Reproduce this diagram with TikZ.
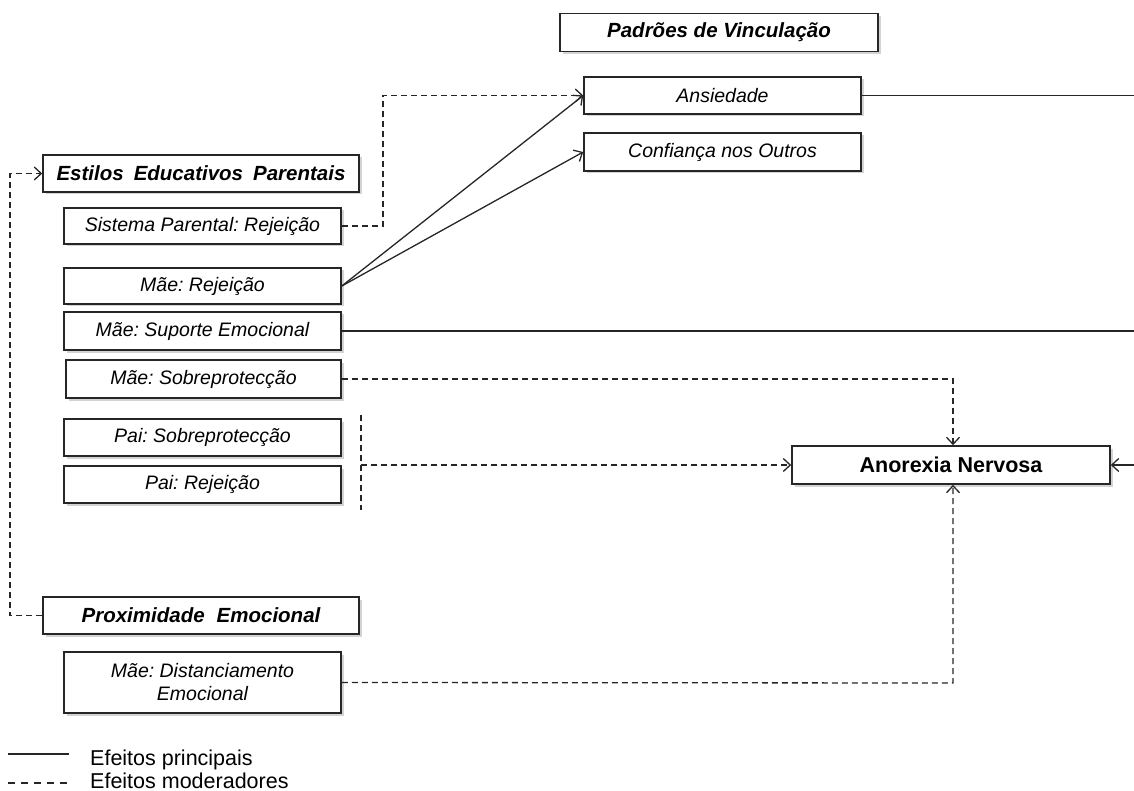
\documentclass[tikz,border=0pt]{standalone}
\usepackage{fontspec}
\setmainfont{Liberation Sans}
\frenchspacing
\usetikzlibrary{arrows.meta,shadows}
\begin{document}
\begin{tikzpicture}[x=1pt,y=-1pt,
  box/.style={draw=black!85,line width=1.6pt,fill=white,inner sep=0pt,
    drop shadow={opacity=0.35,shadow xshift=2.5pt,shadow yshift=-2.5pt},
    font=\fontsize{19.5}{23}\selectfont\itshape},
  head/.style={box,font=\fontsize{20.5}{24}\selectfont\bfseries\itshape},
  conn/.style={line width=1.3pt,draw=black!85},
  dsh/.style={conn,dash pattern=on 6pt off 4pt},
  arr/.style={-{Straight Barb[length=7pt,width=13pt,line width=1.3pt]}},
  legtext/.style={anchor=base west,inner sep=0pt,font=\fontsize{21.5}{24}\selectfont},
]
\useasboundingbox (0,0) rectangle (1134,791);
% nodes
\node[head,minimum width=318pt,minimum height=38pt] (pv) at (719,32.5) {Padrões de Vinculação};
\node[box,minimum width=277pt,minimum height=37pt] (ans) at (722.5,95.5) {Ansiedade};
\node[box,minimum width=277pt,minimum height=38pt] (conf) at (722.5,152) {Confiança nos Outros};
\node[head,minimum width=316pt,minimum height=37pt] (est) at (201,173.5) {Estilos\hspace{10pt}Educativos\hspace{10pt}Parentais};
\node[box,minimum width=277pt,minimum height=36pt] (spr) at (202.5,226) {Sistema Parental: Rejeição};
\node[box,minimum width=277pt,minimum height=36pt] (mr) at (202.5,286) {Mãe: Rejeição};
\node[box,minimum width=277pt,minimum height=38pt] (mse) at (202.5,331) {Mãe: Suporte Emocional};
\node[box,minimum width=275pt,minimum height=38pt] (ms) at (203.5,379) {Mãe: Sobreprotecção};
\node[box,minimum width=277pt,minimum height=37pt] (ps) at (202.5,437.5) {Pai: Sobreprotecção};
\node[box,minimum width=277pt,minimum height=37pt] (pr) at (202.5,484.5) {Pai: Rejeição};
\node[box,minimum width=318pt,minimum height=38pt,font=\fontsize{21.5}{24}\selectfont\bfseries] (an) at (951,465) {Anorexia Nervosa};
\node[head,minimum width=316pt,minimum height=37pt] (prox) at (201,615.5) {Proximidade\hspace{12pt}Emocional};
\node[box,minimum width=277pt,minimum height=61pt,align=center] (mde) at (202.5,682.5) {Mãe: Distanciamento\\Emocional};
% coordinates
\coordinate (e1) at (1134,95.5);
\coordinate (e2) at (1134,331);
\coordinate (e3) at (1134,465);
\coordinate (vt) at (361,415);
\coordinate (vb) at (361,510);
\coordinate (vm) at (361,465);
% connectors
\draw[dsh,arr] (spr.east) -- (383,226) -- (383,95.5) -- (ans.west);
\draw[conn,arr] (mr.east) -- (ans.west);
\draw[conn,arr] (mr.east) -- (conf.west);
\draw[conn] (ans.east) -- (e1);
\draw[conn] (mse.east) -- (e2);
\draw[dsh,arr] (ms.east) -- (953,379) -- (an.north -| 953,0);
\draw[dsh] (vt) -- (vb);
\draw[dsh,arr] (vm) -- (an.west);
\draw[conn,arr] (e3) -- (an.east);
\draw[dsh,arr] (mde.east) -- (953,683) -- (an.south -| 953,0);
\draw[dsh,arr] (prox.west) -- (10,615.5) -- (10,173.5) -- (est.west);
% legend
\coordinate (l1a) at (8,754); \coordinate (l1b) at (69,754);
\coordinate (l2a) at (8,783); \coordinate (l2b) at (69,783);
\draw[conn,line width=1.1pt] (l1a) -- (l1b);
\draw[dsh,line width=1.1pt,dash pattern=on 7pt off 6pt] (l2a) -- (l2b);
\node[legtext] (lt1) at (90,765) {Efeitos principais};
\node[legtext] (lt2) at (90,788.5) {Efeitos moderadores};
\end{tikzpicture}
\end{document}
